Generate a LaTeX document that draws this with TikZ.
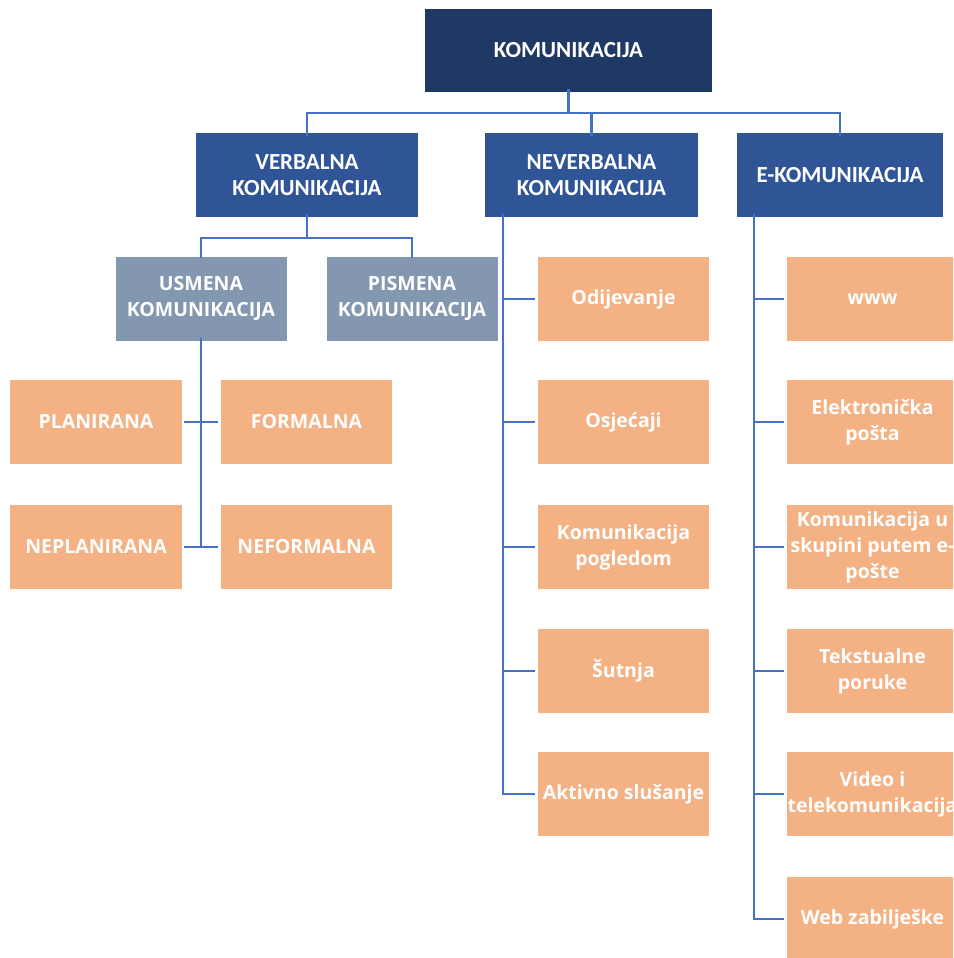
\documentclass[tikz,border=0pt]{standalone}
\usepackage{fontspec}
\setmainfont{Open Sans}
\newfontfamily\hdfont{Carlito}
\definecolor{topc}{HTML}{203864}
\definecolor{midc}{HTML}{2F5597}
\definecolor{grayc}{HTML}{8497B0}
\definecolor{orc}{HTML}{F4B183}
\definecolor{linec}{HTML}{4472C4}
\begin{document}
\begin{tikzpicture}[x=1pt,y=-1pt,
  base/.style={rectangle, inner sep=0pt, align=center, text=white, minimum height=84pt},
  topbox/.style={base, fill=topc, minimum width=287pt, minimum height=83pt, font=\hdfont\bfseries\fontsize{23}{26}\selectfont},
  midbox/.style={base, fill=midc, font=\hdfont\bfseries\fontsize{23}{26}\selectfont},
  graybox/.style={base, fill=grayc, minimum width=171pt, font=\bfseries\fontsize{19.5}{26}\selectfont},
  orbox/.style={base, fill=orc, minimum width=171pt, font=\bfseries\fontsize{19.5}{26}\selectfont},
  conn/.style={draw=linec, line width=2.4pt}]
\useasboundingbox (0,0) rectangle (953,958);
\clip (0,0) rectangle (953,958);
% level 1
\node[topbox] (top) at (568.5,50.5) {KOMUNIKACIJA};
% level 2
\node[midbox, minimum width=222pt] (verb) at (307,175) {VERBALNA\\KOMUNIKACIJA};
\node[midbox, minimum width=213pt] (nev) at (591.5,175) {NEVERBALNA\\KOMUNIKACIJA};
\node[midbox, minimum width=206pt] (ek) at (840,175) {E-KOMUNIKACIJA};
% level 3
\node[graybox] (usm) at (201,298.5) {USMENA\\KOMUNIKACIJA};
\node[graybox] (pis) at (412,298.5) {PISMENA\\KOMUNIKACIJA};
\node[orbox, minimum width=172pt] (pla) at (96,422) {PLANIRANA};
\node[orbox] (for) at (306.5,422) {FORMALNA};
\node[orbox, minimum width=172pt] (nepla) at (96,547) {NEPLANIRANA};
\node[orbox] (nef) at (306.5,547) {NEFORMALNA};
% neverbalna children
\node[orbox] (n1) at (623.5,299) {Odijevanje};
\node[orbox] (n2) at (623.5,422) {Osjećaji};
\node[orbox] (n3) at (623.5,547) {Komunikacija\\pogledom};
\node[orbox] (n4) at (623.5,671) {Šutnja};
\node[orbox] (n5) at (623.5,794) {Aktivno slušanje};
% e-komunikacija children
\node[orbox] (e1) at (872.5,299) {www};
\node[orbox] (e2) at (872.5,422) {Elektronička\\pošta};
\node[orbox] (e3) at (872.5,547) {Komunikacija u\\skupini putem e-\\pošte};
\node[orbox] (e4) at (872.5,671) {Tekstualne\\poruke};
\node[orbox] (e5) at (872.5,794) {Video i\\telekomunikacija};
\node[orbox] (e6) at (872.5,919) {Web zabilješke};
% connectors level 1 -> 2
\coordinate (j1) at (568.5,113);
\draw[conn] ([yshift=3pt]top.south) -- (j1);
\draw[conn] ([yshift=-3pt]verb.north) |- (j1);
\draw[conn] ([yshift=-3pt]ek.north) |- (j1);
\draw[conn] ([yshift=-3pt]nev.north) -- (nev.north |- j1);
% verbalna -> usmena/pismena
\coordinate (j2) at (307,238);
\draw[conn] ([yshift=3pt]verb.south) -- (j2);
\draw[conn] ([yshift=-2pt]usm.north) |- (j2);
\draw[conn] ([yshift=-2pt]pis.north) |- (j2);
% usmena -> children
\draw[conn] ([yshift=3pt]usm.south) -- (usm.south |- nepla.east);
\draw[conn] ([xshift=2pt]pla.east) -- ([xshift=-3pt]for.west);
\draw[conn] ([xshift=2pt]nepla.east) -- ([xshift=-3pt]nef.west);
% neverbalna trunk
\coordinate (nt) at ([xshift=18pt,yshift=3pt]nev.south west);
\draw[conn] (nt) |- ([xshift=-3pt]n5.west);
\foreach \k in {1,2,3,4} {\draw[conn] ([xshift=-3pt]n\k.west) -- (n\k.west -| nt);}
% e-komunikacija trunk
\coordinate (et) at ([xshift=17pt,yshift=3pt]ek.south west);
\draw[conn] (et) |- ([xshift=-3pt]e6.west);
\foreach \k in {1,2,3,4,5} {\draw[conn] ([xshift=-3pt]e\k.west) -- (e\k.west -| et);}
\end{tikzpicture}
\end{document}
